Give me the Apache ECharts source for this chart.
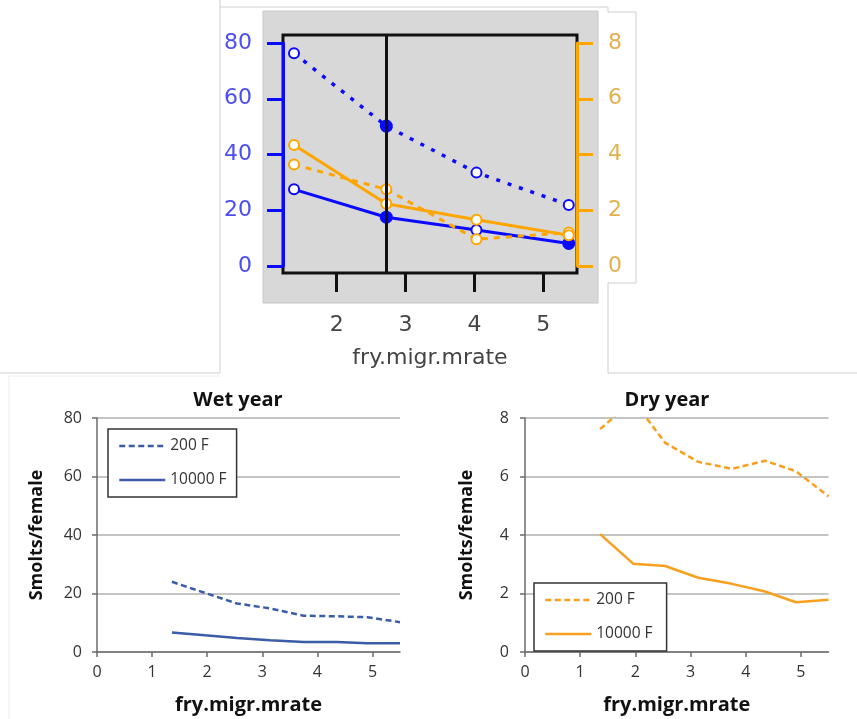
<!DOCTYPE html>
<html>
<head>
<meta charset="utf-8">
<script src="https://cdn.jsdelivr.net/npm/echarts@6/dist/echarts.min.js"></script>
<style>html,body{margin:0;padding:0;background:#fff}#c{width:857px;height:719px}</style>
</head>
<body>
<div id="c"></div>
<script>
// ---- top panel (model output) ----
const topX = [1.38, 2.72, 4.03, 5.37];
const topWet200 = [76.3, 50.2, 33.5, 21.9];
const topWet10000 = [27.5, 17.5, 12.9, 8.1];
const topDry200 = [3.64, 2.75, 0.96, 1.2];
const topDry10000 = [4.34, 2.23, 1.66, 1.1];
const currentRate = 2.72;
const topXTicks = [2, 3, 4, 5];

// ---- bottom panels ----
const yearX = [1.36, 1.96, 2.54, 3.14, 3.75, 4.35, 4.91, 5.5];
const wet200 = [24.0, 20.2, 16.6, 14.9, 12.4, 12.2, 11.9, 10.2];
const wet10000 = [6.7, 5.7, 4.8, 4.0, 3.4, 3.4, 3.0, 3.0];
const dry200 = [7.62, 8.6, 7.15, 6.5, 6.26, 6.54, 6.18, 5.32];
const dry10000 = [4.03, 3.02, 2.94, 2.54, 2.33, 2.07, 1.70, 1.79];
const bottomXTicks = [0, 1, 2, 3, 4, 5];
const titles = ['Wet year', 'Dry year'];

const BLUE = '#0a0aff', ORANGE = '#ffa500';
const WETC = '#3b5ca6', DRYC = '#f8a01e';
const TOPFONT = 'DejaVu Sans';
const BFONT = 'Open Sans';

function pairs(xs, ys) { return xs.map((x, i) => [x, ys[i]]); }
function topData(ys, filled) {
  return topX.map((x, i) => ({ value: [x, ys[i]], symbol: filled.includes(i) ? 'circle' : 'emptyCircle' }));
}

const chart = echarts.init(document.getElementById('c'), null, { renderer: 'canvas' });

const bottomX = (gi) => ({
  gridIndex: gi, type: 'value', min: 0, max: 5.5,
  axisLine: { show: true, lineStyle: { color: '#6b6b6b', width: 1.5 } },
  axisTick: { show: true, customValues: bottomXTicks, length: 5, lineStyle: { color: '#6b6b6b', width: 1.5 } },
  axisLabel: { customValues: bottomXTicks, fontSize: 16, color: '#333', margin: 12, fontFamily: BFONT },
  splitLine: { show: false },
  name: 'fry.migr.mrate', nameLocation: 'middle', nameGap: 43,
  nameTextStyle: { fontSize: 20, fontWeight: 'bold', color: '#111', fontFamily: BFONT }
});
const bottomY = (gi, max, interval, margin, gap) => ({
  gridIndex: gi, type: 'value', min: 0, max: max, interval: interval,
  axisLine: { show: true, lineStyle: { color: '#6b6b6b', width: 1.5 } },
  axisTick: { show: true, length: 5, lineStyle: { color: '#6b6b6b', width: 1.5 } },
  axisLabel: { fontSize: 16, color: '#333', margin: margin, fontFamily: BFONT },
  splitLine: { show: true, lineStyle: { color: '#c4c4c4', width: 2 } },
  name: 'Smolts/female', nameLocation: 'middle', nameGap: gap,
  nameTextStyle: { fontSize: 18, fontWeight: 'bold', color: '#111', fontFamily: BFONT }
});
const legendCfg = (left, top) => ({
  left: left, top: top, orient: 'vertical', itemWidth: 46, itemHeight: 14, itemGap: 18,
  padding: [9, 10, 9, 10], borderColor: '#333', borderWidth: 1.5, backgroundColor: '#fff',
  itemStyle: { opacity: 0 },
  lineStyle: { width: 2.5 },
  textStyle: { fontSize: 15.5, color: '#333', fontFamily: BFONT },
  selectedMode: false
});

const option = {
  animation: false,
  backgroundColor: '#fff',
  graphic: [
    { type: 'rect', z: -1, shape: { x: 263, y: 11, width: 335, height: 292 }, style: { fill: '#d8d8d8', stroke: '#c8c8c8', lineWidth: 1 } },
    { type: 'polyline', z: -1, shape: { points: [[220, 0], [220, 373], [0, 373]] }, style: { stroke: '#cfcfcf', lineWidth: 1, fill: null } },
    { type: 'polyline', z: -1, shape: { points: [[220, 7], [608, 7], [608, 12], [636, 12], [636, 283], [608, 283], [608, 373], [857, 373]] }, style: { stroke: '#cfcfcf', lineWidth: 1, fill: null } },
    { type: 'polyline', z: -1, shape: { points: [[9, 719], [9, 376], [220, 376]] }, style: { stroke: '#ececec', lineWidth: 1, fill: null } },
    { type: 'text', x: 238, y: 400, style: { text: titles[0], font: 'bold 20px "Open Sans"', fill: '#111', align: 'center', verticalAlign: 'middle' } },
    { type: 'text', x: 667, y: 400, style: { text: titles[1], font: 'bold 20px "Open Sans"', fill: '#111', align: 'center', verticalAlign: 'middle' } }
  ],
  grid: [
    { left: 283, top: 35, width: 294, height: 238, show: true, borderColor: '#111', borderWidth: 3, backgroundColor: 'transparent' },
    { left: 283, top: 43, width: 294, height: 223 },
    { left: 97, top: 418, width: 303, height: 234 },
    { left: 525, top: 418, width: 303.5, height: 234 }
  ],
  legend: [
    Object.assign(legendCfg(108, 429), { data: ['200 F', '10000 F'] }),
    Object.assign(legendCfg(534, 583), { data: ['200 F ', '10000 F '] })
  ],
  xAxis: [
    {
      gridIndex: 0, type: 'value', min: 1.22, max: 5.49,
      axisLine: { show: false },
      axisTick: { show: true, customValues: topXTicks, length: 19, lineStyle: { color: '#111', width: 3 } },
      axisLabel: { customValues: topXTicks, fontSize: 22, color: '#444', margin: 41, fontFamily: TOPFONT },
      splitLine: { show: false },
      name: 'fry.migr.mrate', nameLocation: 'middle', nameGap: 74,
      nameTextStyle: { fontSize: 22, color: '#444', fontFamily: TOPFONT }
    },
    { gridIndex: 1, type: 'value', min: 1.22, max: 5.49, show: false },
    bottomX(2),
    bottomX(3)
  ],
  yAxis: [
    { gridIndex: 0, type: 'value', min: 0, max: 1, show: false },
    {
      gridIndex: 1, type: 'value', min: 0, max: 80, interval: 20, position: 'left',
      axisLine: { show: true, lineStyle: { color: BLUE, width: 3 } },
      axisTick: { show: true, length: 16, lineStyle: { color: BLUE, width: 3 } },
      axisLabel: { fontSize: 22, color: '#4d4df2', margin: 31, fontFamily: TOPFONT, padding: [10, 0, 0, 0] },
      splitLine: { show: false }
    },
    {
      gridIndex: 1, type: 'value', min: 0, max: 8, interval: 2, position: 'right',
      axisLine: { show: true, lineStyle: { color: ORANGE, width: 3 } },
      axisTick: { show: true, length: 16, lineStyle: { color: ORANGE, width: 3 } },
      axisLabel: { fontSize: 22, color: '#e3b04e', margin: 31, fontFamily: TOPFONT, padding: [10, 0, 0, 0] },
      splitLine: { show: false }
    },
    bottomY(2, 80, 20, 15, 51),
    bottomY(3, 8, 2, 16, 49)
  ],
  series: [
    {
      name: 'current', type: 'line', xAxisIndex: 0, yAxisIndex: 0, data: [], silent: true,
      markLine: {
        silent: true, symbol: ['none', 'none'], label: { show: false },
        lineStyle: { color: '#111', width: 3, type: 'solid' },
        data: [{ xAxis: currentRate }]
      }
    },
    {
      name: 'top wet 200', type: 'line', xAxisIndex: 1, yAxisIndex: 1,
      data: topData(topWet200, [1]), symbolSize: 10,
      lineStyle: { color: BLUE, width: 3.5, type: [4, 8] },
      itemStyle: { color: BLUE, borderColor: BLUE, borderWidth: 3 }
    },
    {
      name: 'top wet 10000', type: 'line', xAxisIndex: 1, yAxisIndex: 1,
      data: topData(topWet10000, [1, 3]), symbolSize: 10,
      lineStyle: { color: BLUE, width: 3 },
      itemStyle: { color: BLUE, borderColor: BLUE, borderWidth: 3 }
    },
    {
      name: 'top dry 200', type: 'line', xAxisIndex: 1, yAxisIndex: 2,
      data: topData(topDry200, []), symbolSize: 10,
      lineStyle: { color: ORANGE, width: 3, type: [6, 6] },
      itemStyle: { color: ORANGE, borderColor: ORANGE, borderWidth: 3 }
    },
    {
      name: 'top dry 10000', type: 'line', xAxisIndex: 1, yAxisIndex: 2,
      data: topData(topDry10000, []), symbolSize: 10,
      lineStyle: { color: ORANGE, width: 3 },
      itemStyle: { color: ORANGE, borderColor: ORANGE, borderWidth: 3 }
    },
    {
      name: '200 F', type: 'line', xAxisIndex: 2, yAxisIndex: 3, data: pairs(yearX, wet200),
      symbol: 'none', lineStyle: { color: WETC, width: 2.5, type: [6, 3.5] }, itemStyle: { color: WETC }
    },
    {
      name: '10000 F', type: 'line', xAxisIndex: 2, yAxisIndex: 3, data: pairs(yearX, wet10000),
      symbol: 'none', lineStyle: { color: WETC, width: 2.5 }, itemStyle: { color: WETC }
    },
    {
      name: '200 F ', type: 'line', xAxisIndex: 3, yAxisIndex: 4, data: pairs(yearX, dry200),
      symbol: 'none', clip: true, lineStyle: { color: DRYC, width: 2.5, type: [6, 3.5] }, itemStyle: { color: DRYC }
    },
    {
      name: '10000 F ', type: 'line', xAxisIndex: 3, yAxisIndex: 4, data: pairs(yearX, dry10000),
      symbol: 'none', lineStyle: { color: DRYC, width: 2.5 }, itemStyle: { color: DRYC }
    }
  ]
};
chart.setOption(option);
</script>
</body>
</html>
